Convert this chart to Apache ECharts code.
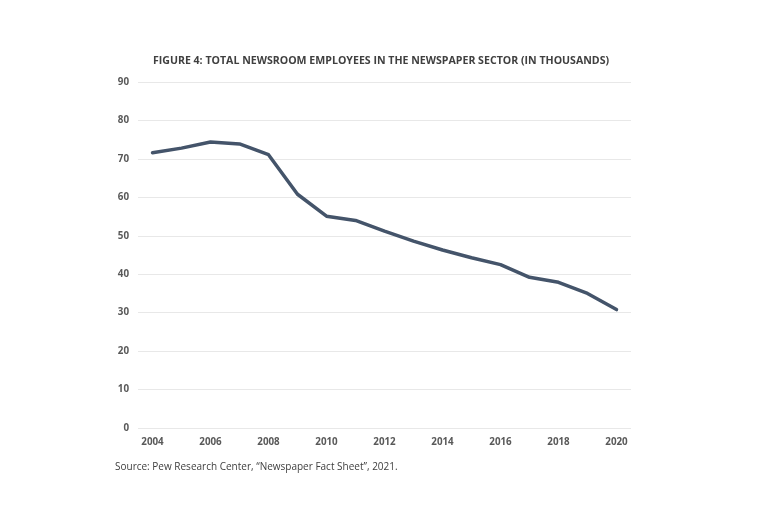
<!DOCTYPE html>
<html><head><meta charset="utf-8">
<script src="https://cdn.jsdelivr.net/npm/echarts@6/dist/echarts.min.js"></script>
<style>html,body{margin:0;padding:0;background:#fff}#c{width:768px;height:512px}</style>
</head><body><div id="c"></div>
<script>
const years = ['2004','2005','2006','2007','2008','2009','2010','2011','2012','2013','2014','2015','2016','2017','2018','2019','2020'];
const employees = [71.6, 72.8, 74.4, 73.9, 71.1, 60.8, 55.1, 54.0, 51.2, 48.6, 46.3, 44.3, 42.5, 39.2, 37.9, 35.0, 30.8];
const titleText = 'FIGURE 4: TOTAL NEWSROOM EMPLOYEES IN THE NEWSPAPER SECTOR (IN THOUSANDS)';
const sourceText = 'Source: Pew Research Center, \u201cNewspaper Fact Sheet\u201d, 2021.';

const chart = echarts.init(document.getElementById('c'));
chart.setOption({
  animation: false,
  backgroundColor: '#fff',
  title: [
    {text: titleText, left: 376, top: 50, textAlign: 'center',
     textStyle: {fontFamily: 'Open Sans', fontWeight: 'bold', fontSize: 10.6, color: '#404040'}},
    {text: sourceText, left: 110, top: 457,
     textStyle: {fontFamily: 'Open Sans', fontWeight: 'normal', fontSize: 10, color: '#404040'}}
  ],
  grid: {left: 138, right: 137, top: 82, bottom: 84},
  xAxis: {
    type: 'category', data: years, boundaryGap: true,
    axisLine: {show: false}, axisTick: {show: false},
    axisLabel: {interval: 1, fontFamily: 'Open Sans', fontWeight: 'bold', fontSize: 9.8, color: '#595959', margin: 9}
  },
  yAxis: {
    type: 'value', min: 0, max: 90, interval: 10,
    axisLine: {show: false}, axisTick: {show: false},
    axisLabel: {fontFamily: 'Open Sans', fontWeight: 'bold', fontSize: 9.8, color: '#595959', margin: 9},
    splitLine: {lineStyle: {color: '#e8e8e8', width: 1}}
  },
  series: [{
    type: 'line', data: employees, symbol: 'none',
    lineStyle: {color: '#44546a', width: 3.5, join: 'round', cap: 'round'}
  }]
});
</script></body></html>
